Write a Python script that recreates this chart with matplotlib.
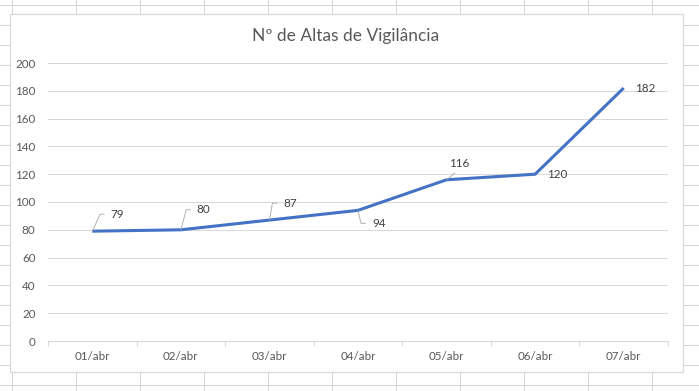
import numpy as np
import matplotlib
matplotlib.use('Agg')
import matplotlib.pyplot as plt
from matplotlib.patches import Rectangle

# =====================================================
# DADOS
# =====================================================

dias = ['01/abr', '02/abr', '03/abr', '04/abr', '05/abr', '06/abr', '07/abr']
altas = [79, 80, 87, 94, 116, 120, 182]
titulo = 'Nº de Altas de Vigilância'
y_ticks = [0, 20, 40, 60, 80, 100, 120, 140, 160, 180, 200]

# deslocamento dos rótulos (pixels) e ângulo da linha guia
rot_dx = [18, 16, 14, 14, 13, 12, 11]
rot_dy = [17, 20, 17, -13, 16, 0, 0]
guia_ang = [65, 75, 80, -77, None, None, None]

plt.rcParams['font.family'] = ['Lato', 'DejaVu Sans']

W, H = 699, 391
fig = plt.figure(figsize=(W / 100, H / 100), dpi=100)

# =====================================================
# FUNDO (células da planilha)
# =====================================================

bg = fig.add_axes([0, 0, 1, 1])
bg.set_xlim(0, W)
bg.set_ylim(H, 0)
bg.axis('off')
cor_cel = '#d4d4d4'
for xv in np.arange(12, W, 64):
    bg.axvline(xv, color=cor_cel, lw=0.75)
for yv in np.arange(5, H, 20):
    bg.axhline(yv, color=cor_cel, lw=0.75)

bg.add_patch(Rectangle((10, 14), 673, 358, facecolor='white',
                       edgecolor='#d9d9d9', lw=0.9, zorder=3))

fig.text(346 / W, 1 - 36 / H, titulo, ha='center', va='center',
         fontsize=12.5, color='#595959')

# =====================================================
# GRÁFICO
# =====================================================

x0, x1, yt, yb = 48, 668, 63, 341
ax = fig.add_axes([x0 / W, 1 - yb / H, (x1 - x0) / W, (yb - yt) / H])
ax.patch.set_alpha(0)

x = np.arange(len(dias))
ax.plot(x, altas, color='#4472C4', lw=2.2, solid_capstyle='butt',
        solid_joinstyle='miter', zorder=3)

ax.set_xlim(-0.5, len(dias) - 0.5)
ax.set_ylim(0, 200)
ax.set_yticks(y_ticks)
ax.set_xticks(x)
ax.set_xticklabels(dias)
ax.set_xticks(np.arange(-0.5, len(dias)), minor=True)

ax.grid(axis='y', color='#d9d9d9', lw=0.75)
ax.set_axisbelow(True)
for s in ['top', 'right', 'left']:
    ax.spines[s].set_visible(False)
ax.spines['bottom'].set_color('#d9d9d9')
ax.spines['bottom'].set_linewidth(0.75)

ax.tick_params(axis='y', length=0, pad=9, labelsize=8.4, labelcolor='#595959')
ax.tick_params(axis='x', which='major', length=0, pad=7.5, labelsize=8.4,
               labelcolor='#595959')
ax.tick_params(axis='x', which='minor', length=3.5, width=0.75,
               color='#d9d9d9')

# rótulos de dados
for i, v in enumerate(altas):
    kw = dict(xy=(x[i], v), xytext=(rot_dx[i], rot_dy[i]),
              textcoords='offset pixels', fontsize=8.4, color='#404040',
              va='center', ha='left', zorder=4)
    if guia_ang[i] is not None:
        kw['arrowprops'] = dict(arrowstyle='-', color='#a6a6a6', lw=0.6,
                                shrinkA=2.5, shrinkB=0, relpos=(0, 0.5),
                                connectionstyle='angle,angleA=0,angleB=%d,rad=0'
                                % guia_ang[i])
    elif rot_dy[i] != 0:
        kw['ha'] = 'center'
        kw['arrowprops'] = dict(arrowstyle='-', color='#a6a6a6', lw=0.6,
                                shrinkA=1, shrinkB=0, relpos=(0.5, 0))
    ax.annotate(str(v), **kw)

fig.savefig('out.png', dpi=100)
